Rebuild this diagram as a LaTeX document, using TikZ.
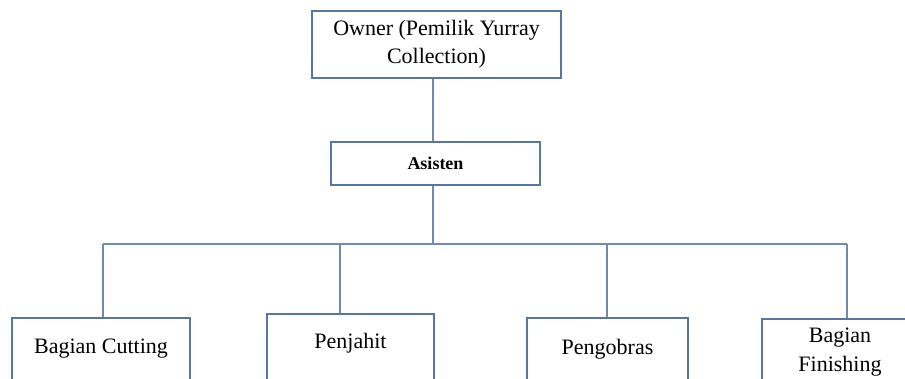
\documentclass[tikz,border=0pt]{standalone}
\usepackage{fontspec}
\setmainfont{Liberation Serif}
\definecolor{boxline}{RGB}{88,118,160}
\definecolor{conline}{RGB}{110,138,175}
\tikzset{
  orgbox/.style={draw=boxline, line width=1pt, fill=white, inner xsep=0pt, inner ysep=0pt, align=center, font=\fontsize{11}{14}\selectfont},
  conn/.style={draw=conline, line width=0.6pt},
}
\begin{document}
\begin{tikzpicture}[x=0.5pt,y=-0.5pt]
\useasboundingbox (0,0) rectangle (905,379);
\begin{scope}
\clip (0,0) rectangle (905,379);
% top
\node[orgbox, minimum width=124.5pt, minimum height=33.5pt] (owner) at (436.5,44.5) {Owner (Pemilik Yurray\\Collection)};
\node[orgbox, minimum width=104.5pt, minimum height=21.5pt, font=\bfseries\fontsize{9}{11}\selectfont] (asisten) at (435.5,163.5) {Asisten};
% bottom boxes (extend below the frame)
\node[orgbox, anchor=north, minimum width=89pt, text height=17.5pt, text depth=25pt] (cutting) at (101,317) {Bagian Cutting};
\node[orgbox, anchor=north, minimum width=83.5pt, text height=17.5pt, text depth=25pt] (penjahit) at (350.5,313) {Penjahit};
\node[orgbox, anchor=north, minimum width=80.5pt, text height=18pt, text depth=25pt] (pengobras) at (607.5,317) {Pengobras};
\node[orgbox, anchor=north, minimum width=78pt, inner ysep=4.5pt] (finishing) at (840,318) {Bagian\\[0.5pt]Finishing\\[20pt]\mbox{}};
% connectors
\coordinate (vx) at (433,0);
\coordinate (bus) at (0,244);
\draw[conn] (owner.south -| vx) -- (asisten.north -| vx);
\draw[conn] (asisten.south -| vx) -- (bus -| vx);
\coordinate (d1) at (103,244);
\coordinate (d2) at (340,244);
\coordinate (d3) at (607,244);
\coordinate (d4) at (847,244);
\draw[conn] (d1) -- (d4);
\draw[conn] (d1) -- (cutting.north -| d1);
\draw[conn] (d2) -- (penjahit.north -| d2);
\draw[conn] (d3) -- (pengobras.north -| d3);
\draw[conn] (d4) -- (finishing.north -| d4);
\end{scope}
\end{tikzpicture}
\end{document}
